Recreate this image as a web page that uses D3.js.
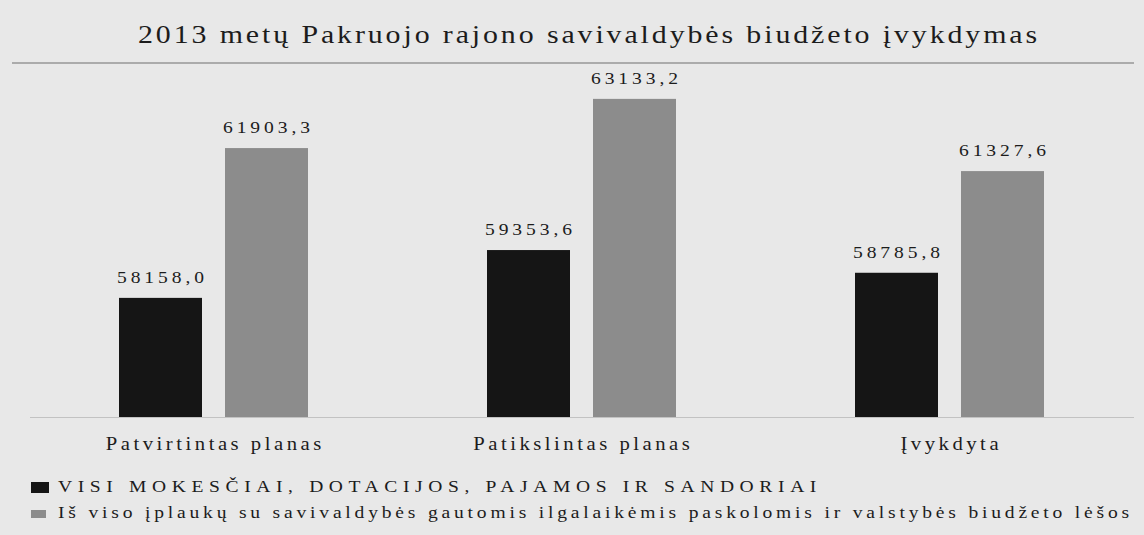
<!DOCTYPE html>
<html><head><meta charset="utf-8">
<script src="https://cdn.jsdelivr.net/npm/d3@7"></script>
<style>
html,body{margin:0;padding:0;background:#e8e8e8;}
svg{display:block;}
text{font-family:'Liberation Serif','DejaVu Serif',serif;}
</style></head>
<body><svg id="c" width="1144" height="535"></svg>
<script>
const title = "2013 metų Pakruojo rajono savivaldybės biudžeto įvykdymas";
const categories = ["Patvirtintas planas", "Patikslintas planas", "Įvykdyta"];
const seriesNames = ["VISI MOKESČIAI, DOTACIJOS, PAJAMOS IR SANDORIAI",
  "Iš viso įplaukų su savivaldybės gautomis ilgalaikėmis paskolomis ir valstybės biudžeto lėšos"];
const series1 = [58158.0, 59353.6, 58785.8];
const series2 = [61903.3, 63133.2, 61327.6];
const labels1 = ["58158,0", "59353,6", "58785,8"];
const labels2 = ["61903,3", "63133,2", "61327,6"];
const colors = ["#151515", "#8c8c8c"];

const svg = d3.select("#c");
const W = 1144, H = 535;
const baseY = 417, topY = 63;
const SX = 1.15; // horizontal stretch of glyphs, as in the scanned reference
const x0 = d3.scaleBand().domain(categories).range([29.5, 1133.5]).padding(0);
const x1 = d3.scaleBand().domain([0, 1]).range([89.5, 278.5]).paddingInner(0.217).paddingOuter(0);
const y = d3.scaleLinear().domain([55180, 64030]).range([baseY, topY]);

svg.append("rect").attr("width", W).attr("height", H).attr("fill", "#e8e8e8");

svg.append("line").attr("x1", 12).attr("x2", 1134).attr("y1", y(64030)).attr("y2", y(64030))
  .attr("stroke", "#979797").attr("stroke-width", 1.5);
svg.append("line").attr("x1", 30).attr("x2", 1134).attr("y1", baseY + 0.5).attr("y2", baseY + 0.5)
  .attr("stroke", "#c2c2c2").attr("stroke-width", 1);

// place a text at (x,y) stretched by SX, spacing chosen so the scaled width reaches target
function addText(parent, str, x, yy, size, anchor, target, spacingRef) {
  const t = parent.append("text").attr("transform", `translate(${x},${yy}) scale(${SX},1)`)
    .attr("font-size", size).attr("fill", "#1c1c1c").attr("text-anchor", anchor).text(str);
  let ls = spacingRef;
  if (ls === undefined) {
    const w = t.node().getComputedTextLength();
    ls = Math.max(0, (target / SX - w) / str.length);
  }
  t.attr("letter-spacing", ls);
  if (anchor === "middle") t.attr("dx", ls / 2);
  return ls;
}

addText(svg, title, 138, 43, 26, "start", 902);

const data = categories.map((c, i) => ({c, v: [series1[i], series2[i]], l: [labels1[i], labels2[i]]}));
const g = svg.selectAll("g.grp").data(data).join("g").attr("class", "grp")
  .attr("transform", d => `translate(${x0(d.c)},0)`);
[0, 1].forEach(s => {
  g.append("rect").attr("x", x1(s)).attr("width", x1.bandwidth())
    .attr("y", d => y(d.v[s])).attr("height", d => baseY - y(d.v[s]))
    .attr("fill", colors[s]);
});
let lsv;
data.forEach((d, i) => {
  const grp = d3.select(g.nodes()[i]);
  [0, 1].forEach(s => {
    lsv = addText(grp, d.l[s], x1(s) + x1.bandwidth() / 2, y(d.v[s]) - 15, 17, "middle", 91, lsv);
  });
});

let lsc;
categories.forEach(c => {
  lsc = addText(svg, c, x0(c) + x0.bandwidth() / 2, 450, 18, "middle", 219, lsc);
});

const leg = [{y: 492, end: 822, sq: [31, 482, 18, 11]}, {y: 518, end: 1133, sq: [31, 510, 15, 8]}];
seriesNames.forEach((n, i) => {
  const L = leg[i];
  svg.append("rect").attr("x", L.sq[0]).attr("y", L.sq[1]).attr("width", L.sq[2]).attr("height", L.sq[3]).attr("fill", colors[i]);
  addText(svg, n, 58, L.y, 17, "start", L.end - 58);
});
</script></body></html>
